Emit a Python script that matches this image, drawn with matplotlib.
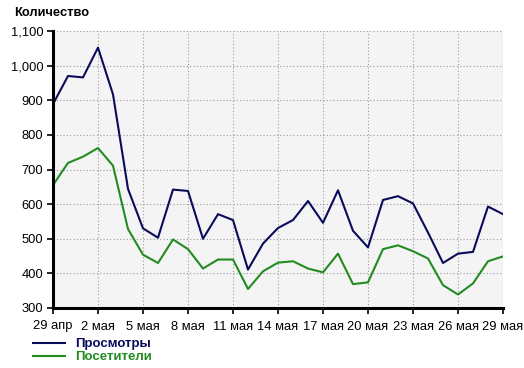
import matplotlib
matplotlib.use("Agg")
import matplotlib.pyplot as plt
from matplotlib.ticker import FuncFormatter

plt.rcParams["font.family"] = ["Liberation Sans", "DejaVu Sans"]

# one value per day, 29 апр .. 29 мая
views = [889, 970, 966, 1052, 917, 644, 530, 503, 642, 638,
         500, 571, 554, 411, 486, 531, 554, 609, 546, 640,
         523, 475, 612, 623, 602, 518, 430, 457, 462, 593, 571]
visitors = [655, 719, 737, 762, 711, 528, 454, 430, 498, 470,
            414, 440, 440, 355, 406, 431, 435, 414, 403, 457,
            369, 374, 470, 481, 464, 443, 366, 339, 371, 435, 449]
tick_labels = ["29 апр", "2 мая", "5 мая", "8 мая", "11 мая", "14 мая",
               "17 мая", "20 мая", "23 мая", "26 мая", "29 мая"]
series_names = ["Просмотры", "Посетители"]
colors = ["#0b0b5c", "#228b22"]

days = list(range(len(views)))

fig = plt.figure(figsize=(5.24, 3.68), dpi=100)
ax = fig.add_axes([53 / 524, 60 / 368, 450 / 524, 277 / 368])
ax.set_facecolor("#f4f4f4")

for vals, name, col in zip([views, visitors], series_names, colors):
    ax.plot(days, vals, color=col, linewidth=1.5, label=name)

ax.set_xlim(0, 30)
ax.set_ylim(300, 1100)
ax.set_xticks(range(0, 31, 3))
ax.set_xticklabels(tick_labels)
ax.set_yticks(range(300, 1101, 100))
ax.yaxis.set_major_formatter(FuncFormatter(lambda v, p: f"{int(v):,}"))

ax.grid(True, linestyle=(0, (1, 2)), color="#999999", linewidth=0.8)
ax.set_axisbelow(True)
for side in ["top", "right"]:
    ax.spines[side].set_visible(False)
for side in ["left", "bottom"]:
    ax.spines[side].set_linewidth(2.2)
    ax.spines[side].set_color("black")
ax.tick_params(axis="both", length=4, width=1.2, labelsize=9.3, colors="black")
ax.tick_params(axis="x", pad=5)
ax.tick_params(axis="y", pad=3)

fig.text(14 / 524, 1 - 13 / 368, "Количество", fontsize=9.3, fontweight="bold",
         va="center", ha="left")

leg = fig.legend(loc="upper left", bbox_to_anchor=(33 / 524, 1 - 338 / 368),
                 frameon=False, handlelength=2.4, handletextpad=0.8,
                 labelspacing=0.05, borderaxespad=0, borderpad=0,
                 prop={"size": 9.5, "weight": "bold"})
for txt, col in zip(leg.get_texts(), colors):
    txt.set_color(col)

fig.savefig("out.png", dpi=100)
